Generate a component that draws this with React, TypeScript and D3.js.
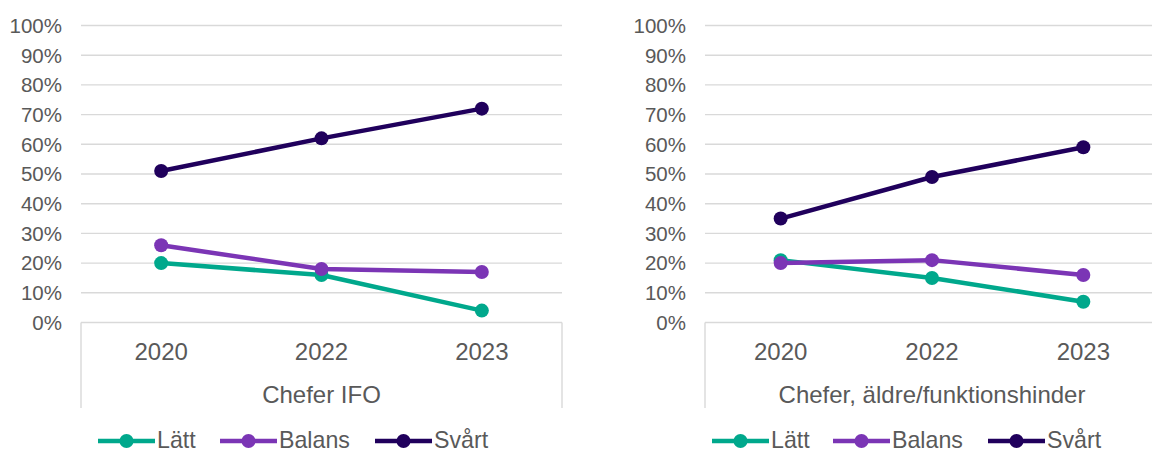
import React from "react";
import * as d3 from "d3";

const categories = ["2020", "2022", "2023"];
const seriesNames = ["Lätt", "Balans", "Svårt"];
const seriesColors = ["#00A88C", "#7B35B5", "#20005C"];

const ifoLatt = [0.20, 0.16, 0.04];
const ifoBalans = [0.26, 0.18, 0.17];
const ifoSvart = [0.51, 0.62, 0.72];

const aldreLatt = [0.21, 0.15, 0.07];
const aldreBalans = [0.20, 0.21, 0.16];
const aldreSvart = [0.35, 0.49, 0.59];

const yTicks = [0, 0.1, 0.2, 0.3, 0.4, 0.5, 0.6, 0.7, 0.8, 0.9, 1.0];

const charts = [
  { title: "Chefer IFO", series: [ifoLatt, ifoBalans, ifoSvart], x0: 81, x1: 562, legendX: [98, 220, 375] },
  { title: "Chefer, äldre/funktionshinder", series: [aldreLatt, aldreBalans, aldreSvart], x0: 705, x1: 1159, legendX: [712, 833, 988] },
];

const FONT = "'Liberation Sans', Arial, sans-serif";
const TEXT = "#595959";
const GRID = "#D9D9D9";

const yTop = 25.5;
const yBottom = 322.5;
const frameBottom = 408;

function Chart({ cfg }: { cfg: (typeof charts)[number] }) {
  const x = d3.scaleBand<string>().domain(categories).range([cfg.x0, cfg.x1]);
  const y = d3.scaleLinear().domain([0, 1]).range([yBottom, yTop]);
  const fmt = d3.format(".0%");
  const line = d3
    .line<number>()
    .x((_, i) => (x(categories[i]) as number) + x.bandwidth() / 2)
    .y((d) => y(d));
  return (
    <g>
      {yTicks.map((t) => (
        <g key={t}>
          {t > 0 && (
            <line x1={cfg.x0} x2={cfg.x1} y1={y(t)} y2={y(t)} stroke={GRID} strokeWidth={1.4} />
          )}
          <text
            x={cfg.x0 - 19}
            y={y(t)}
            dy="0.36em"
            textAnchor="end"
            fontSize={20.5}
            fill={TEXT}
            fontFamily={FONT}
          >
            {fmt(t)}
          </text>
        </g>
      ))}
      <line x1={cfg.x0} x2={cfg.x1} y1={yBottom} y2={yBottom} stroke={GRID} strokeWidth={1.4} />
      <line x1={cfg.x0} x2={cfg.x0} y1={yBottom} y2={frameBottom} stroke={GRID} strokeWidth={1.4} />
      <line x1={cfg.x1} x2={cfg.x1} y1={yBottom} y2={frameBottom} stroke={GRID} strokeWidth={1.4} />
      {categories.map((c) => (
        <text
          key={c}
          x={(x(c) as number) + x.bandwidth() / 2}
          y={359.5}
          textAnchor="middle"
          fontSize={24}
          fill={TEXT}
          fontFamily={FONT}
        >
          {c}
        </text>
      ))}
      <text
        x={(cfg.x0 + cfg.x1) / 2}
        y={403}
        textAnchor="middle"
        fontSize={24}
        fill={TEXT}
        fontFamily={FONT}
      >
        {cfg.title}
      </text>
      {cfg.series.map((s, si) => (
        <g key={si}>
          <path d={line(s) || ""} fill="none" stroke={seriesColors[si]} strokeWidth={4.5} strokeLinejoin="round" />
          {s.map((v, i) => (
            <circle
              key={i}
              cx={(x(categories[i]) as number) + x.bandwidth() / 2}
              cy={y(v)}
              r={7}
              fill={seriesColors[si]}
            />
          ))}
        </g>
      ))}
      {seriesNames.map((n, si) => {
        const lx = cfg.legendX[si];
        const ly = 441;
        return (
          <g key={n}>
            <line x1={lx} x2={lx + 57} y1={ly} y2={ly} stroke={seriesColors[si]} strokeWidth={4.5} />
            <circle cx={lx + 28.5} cy={ly} r={7} fill={seriesColors[si]} />
            <text x={lx + 59} y={440} dy="0.33em" fontSize={23.2} fill={TEXT} fontFamily={FONT}>
              {n}
            </text>
          </g>
        );
      })}
    </g>
  );
}

export default function App() {
  return (
    <svg
      width={1152}
      height={453}
      style={{ position: "absolute", left: 0, top: 0, background: "#fff" }}
    >
      <rect width={1152} height={453} fill="#fff" />
      {charts.map((c) => (
        <Chart key={c.title} cfg={c} />
      ))}
    </svg>
  );
}
